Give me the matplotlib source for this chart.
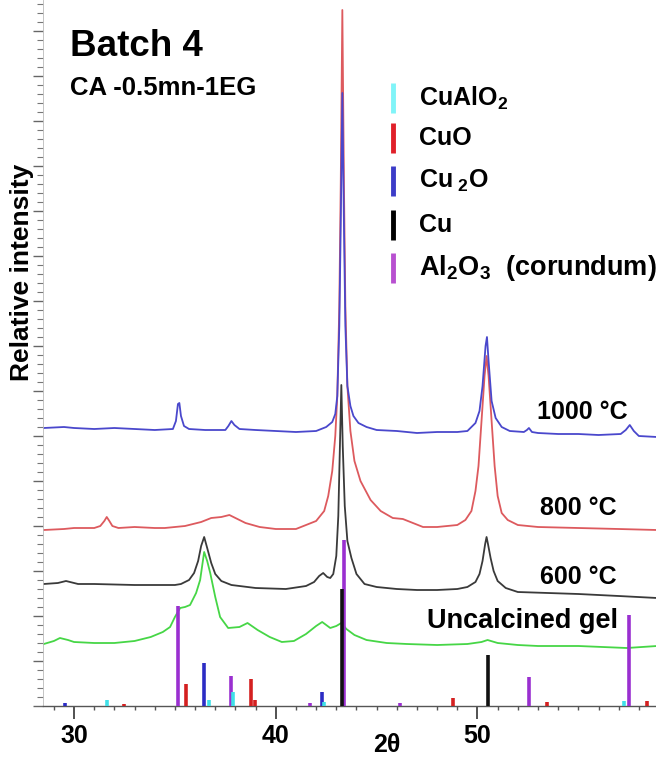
import matplotlib
matplotlib.use("Agg")
import matplotlib.pyplot as plt
from matplotlib.ticker import MultipleLocator, NullFormatter

plt.rcParams["font.family"] = ["Liberation Sans", "DejaVu Sans"]
plt.rcParams["font.weight"] = "bold"
plt.rcParams["mathtext.fontset"] = "custom"
plt.rcParams["mathtext.rm"] = "Liberation Sans:bold"
plt.rcParams["mathtext.it"] = "Liberation Sans:bold"
plt.rcParams["mathtext.bf"] = "Liberation Sans:bold"
plt.rcParams["mathtext.default"] = "bf"

# ── XRD traces (2theta, relative intensity) ──────────────────────────────────
tt_1000 = [28.5, 29.5, 30.0, 31.0, 32.0, 33.0, 34.0, 34.9, 35.05, 35.15, 35.22, 35.3,
           35.45, 35.7, 36.5, 37.5, 37.65, 37.8, 37.95, 38.2, 39.0, 40.0, 41.0, 42.0,
           42.5, 42.8, 42.95, 43.05, 43.15, 43.22, 43.3, 43.38, 43.45, 43.55, 43.7,
           43.85, 44.1, 44.5, 45.0, 46.0, 47.0, 48.0, 49.0, 49.5, 49.9, 50.1, 50.25,
           50.4, 50.47, 50.55, 50.7, 50.9, 51.2, 51.6, 52.3, 52.45, 52.55, 52.7,
           53.0, 54.0, 55.0, 56.0, 57.1, 57.35, 57.55, 57.75, 58.0, 58.9]
i_1000 = [278, 279, 278, 277, 278, 277, 276, 277, 285, 302, 303, 290,
          280, 277, 276, 276, 280, 285, 281, 277, 276, 275, 274, 275,
          279, 284, 292, 310, 380, 480, 613, 480, 380, 320, 300,
          290, 283, 279, 276, 275, 273, 274, 274, 275, 283, 295, 320,
          360, 369, 345, 305, 288, 279, 275, 274, 276, 278, 274,
          273, 272, 272, 271, 272, 276, 281, 275, 270, 269]

tt_800 = [28.5, 29.5, 30.0, 31.0, 31.3, 31.5, 31.62, 31.75, 31.9, 32.2, 33.0, 34.0,
          34.5, 35.5, 36.3, 36.8, 37.3, 37.7, 38.0, 38.5, 39.2, 40.0, 41.0, 42.0,
          42.4, 42.6, 42.8, 42.95, 43.05, 43.15, 43.22, 43.3, 43.38, 43.45, 43.55,
          43.7, 43.9, 44.2, 44.7, 45.2, 45.8, 46.3, 46.8, 47.3, 48.0, 49.0, 49.4,
          49.7, 49.9, 50.05, 50.2, 50.35, 50.45, 50.55, 50.7, 50.85, 51.0, 51.2,
          51.5, 52.0, 53.0, 55.0, 57.0, 58.9]
i_800 = [176, 177, 178, 178, 180, 185, 189, 185, 180, 178, 179, 178,
         178, 180, 184, 188, 189, 191, 188, 183, 179, 177, 177, 185,
         195, 210, 235, 270, 310, 400, 520, 696, 520, 400, 320,
         275, 245, 225, 206, 195, 188, 187, 183, 179, 179, 181, 186,
         195, 215, 240, 285, 330, 350, 330, 285, 240, 210, 193,
         186, 181, 179, 178, 177, 176]

tt_600 = [28.5, 29.2, 29.6, 30.2, 31.0, 33.0, 35.0, 35.3, 35.7, 35.95, 36.15, 36.3,
          36.45, 36.6, 36.8, 37.0, 37.3, 37.8, 39.0, 40.5, 41.5, 41.9, 42.15, 42.35,
          42.55, 42.7, 42.85, 43.0, 43.1, 43.18, 43.25, 43.32, 43.42, 43.55, 43.75,
          44.0, 44.4, 45.0, 46.0, 47.0, 48.0, 49.0, 49.5, 49.9, 50.1, 50.25, 50.38,
          50.45, 50.52, 50.65, 50.8, 51.0, 51.4, 52.0, 53.5, 55.0, 57.0, 58.9]
i_600 = [122, 123, 125, 122, 122, 121, 121, 122, 126, 133, 145, 160,
         169, 158, 143, 132, 125, 121, 118, 117, 120, 124, 130, 133,
         129, 128, 132, 150, 190, 260, 321, 260, 200, 165, 148,
         132, 122, 119, 117, 116, 116, 117, 119, 124, 132, 145, 162,
         169, 162, 148, 135, 125, 118, 114, 113, 112, 110, 108]

tt_gel = [28.5, 29.0, 29.3, 29.7, 30.0, 31.0, 32.0, 33.0, 33.8, 34.4, 34.76, 35.0,
          35.26, 35.5, 35.75, 36.05, 36.25, 36.45, 36.6, 36.75, 37.0, 37.24, 37.64,
          38.2, 38.6, 39.1, 39.7, 40.3, 40.9, 41.5, 42.0, 42.3, 42.7, 43.0, 43.25,
          43.5, 43.9, 44.5, 45.5, 46.5, 48.0, 49.5, 50.2, 50.5, 51.0, 52.0, 53.0,
          55.0, 57.4, 58.9]
i_gel = [62, 65, 68, 66, 64, 63, 63, 65, 69, 74, 79, 89,
         98, 99, 101, 113, 126, 154, 145, 133, 109, 89, 78,
         79, 83, 76, 69, 64, 65, 72, 80, 84, 78, 80, 83,
         77, 71, 66, 63, 62, 61, 62, 64, 66, 63, 61, 60,
         60, 58, 60]

# ── reference stick patterns ─────────────────────────────────────────────────
al2o3_pos = [35.15, 37.78, 41.68, 43.36, 46.18, 52.55, 57.50]
al2o3_h = [100, 30, 3, 166, 3, 29, 91]
cu_pos = [43.30, 50.50]
cu_h = [117, 51]
cu2o_pos = [29.55, 36.42, 42.30]
cu2o_h = [3, 43, 14]
cuo_pos = [32.50, 35.55, 38.75, 38.97, 48.80, 53.45, 58.40]
cuo_h = [2, 22, 27, 6, 8, 4, 5]
cualo2_pos = [31.62, 36.70, 37.88, 42.40, 57.25]
cualo2_h = [6, 6, 14, 4, 5]

fig = plt.figure(figsize=(6.56, 7.62), dpi=100)
ax = fig.add_axes([43 / 656, 56 / 762, 1 - 43 / 656, 706 / 762])

ax.plot(tt_gel, i_gel, color="#46d646", lw=1.3)
ax.plot(tt_600, i_600, color="#3a3a3a", lw=1.3)
ax.plot(tt_800, i_800, color="#dd5a5e", lw=1.3)
ax.plot(tt_1000, i_1000, color="#4a48cc", lw=1.3)

ax.vlines(al2o3_pos, 0, al2o3_h, color="#9a2fd0", lw=2.6, zorder=3)
ax.vlines(cu_pos, 0, cu_h, color="#111111", lw=2.6, zorder=3)
ax.vlines(cu2o_pos, 0, cu2o_h, color="#2c2cc4", lw=2.6, zorder=3)
ax.vlines(cuo_pos, 0, cuo_h, color="#d42020", lw=2.6, zorder=3)
ax.vlines(cualo2_pos, 0, cualo2_h, color="#3fe0e8", lw=2.6, zorder=3)

ax.set_xlim(28.46, 58.85)
ax.set_ylim(0, 706)

for s in ["top", "right"]:
    ax.spines[s].set_visible(False)
ax.spines["left"].set_color("#bbbbbb")
ax.spines["left"].set_linewidth(0.6)
ax.spines["bottom"].set_color("#555555")
ax.spines["bottom"].set_linewidth(1.0)

ax.xaxis.set_major_locator(MultipleLocator(10))
ax.xaxis.set_minor_locator(MultipleLocator(1))
ax.yaxis.set_major_locator(MultipleLocator(45))
ax.yaxis.set_minor_locator(MultipleLocator(9))
ax.yaxis.set_major_formatter(NullFormatter())
ax.tick_params(axis="x", which="major", length=9, width=1.2, color="#333333",
               labelsize=18, pad=4)
ax.tick_params(axis="x", which="minor", length=3, width=1.0, color="#555555")
ax.tick_params(axis="y", which="major", length=7, width=1.0, color="#666666")
ax.tick_params(axis="y", which="minor", length=4, width=0.8, color="#777777")
for lab in ax.get_xticklabels():
    lab.set_fontweight("bold")

ax.text(0.561, -0.055, "2θ", transform=ax.transAxes, ha="center",
        va="center", fontsize=18)
fig.text(22 / 656, 1 - 272 / 762, "Relative intensity", rotation=90,
         ha="center", va="center", fontsize=19, fontweight="bold")

ax.text(29.8, 659, "Batch 4", fontsize=26.5, fontweight="bold", va="center")
ax.text(29.8, 618, "CA -0.5mn-1EG", fontsize=18.5, fontweight="bold", va="center")

# sample labels
ax.text(52.95, 294, "1000 °C", fontsize=18, va="center")
ax.text(53.1, 198, "800 °C", fontsize=18, va="center")
ax.text(53.1, 129, "600 °C", fontsize=18, va="center")
ax.text(47.5, 85, "Uncalcined gel", fontsize=19.5, va="center")

# phase key
key_labels = [r"CuAlO$_2$", "CuO", r"Cu$_{\ 2}$O", "Cu",
              r"Al$_2$O$_3$  (corundum)"]
key_colors = ["#80f4f8", "#e0202a", "#3c3cc8", "#000000", "#b850d0"]
key_y = [608, 568, 525, 481, 438]
key_size = [18, 18, 18, 18, 19.5]
for lab, col, yc, fs in zip(key_labels, key_colors, key_y, key_size):
    ax.plot([45.82, 45.82], [yc - 15, yc + 15], color=col, lw=3.5,
            solid_capstyle="butt")
    ax.text(47.1, yc, lab, fontsize=fs, va="center")

fig.savefig("out.png", dpi=100)
